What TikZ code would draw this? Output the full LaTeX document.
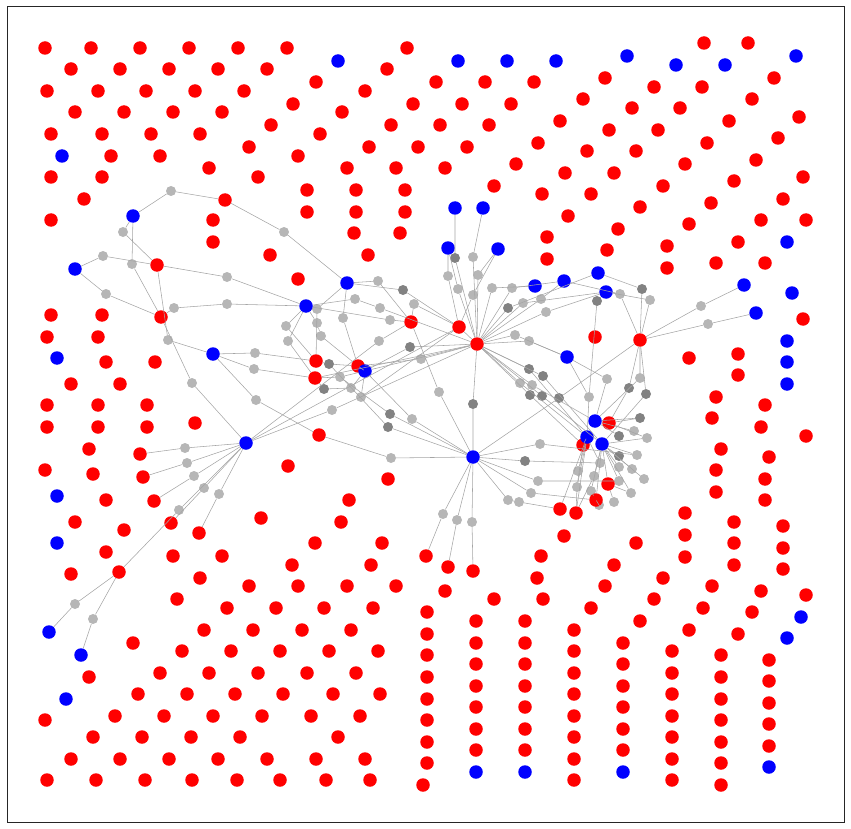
\documentclass[tikz,border=0pt]{standalone}
\begin{document}
\begin{tikzpicture}[x=1pt,y=-1pt,
  rd/.style={circle,fill={rgb,255:red,255;green,0;blue,0},inner sep=0pt,minimum size=13.5pt},
  bl/.style={circle,fill={rgb,255:red,0;green,0;blue,255},inner sep=0pt,minimum size=13.5pt},
  gl/.style={circle,fill={rgb,255:red,182;green,182;blue,182},inner sep=0pt,minimum size=10pt},
  gd/.style={circle,fill={rgb,255:red,130;green,130;blue,130},inner sep=0pt,minimum size=10pt},
  ed/.style={draw={rgb,255:red,165;green,165;blue,165},line width=0.55pt}]
\useasboundingbox (0,0) rectangle (851,829);
\draw[line width=0.8pt,black!85] (7,6) rectangle (844,822);
% isolated red nodes
\foreach \x/\y [count=\i] in {45/48,91/48,140/48,189/48,238/48,287/48,407/48,
71/69,120/69,169/69,218/69,267/69,387/69,47/91,98/91,146/91,195/91,244/91,365/91,
316/82,436/82,485/82,534/82,75/112,124/112,173/112,222/112,342/112,293/104,413/104,462/104,511/104,
271/125,391/125,440/125,489/125,560/121,51/134,102/134,151/134,200/134,320/134,
249/147,369/147,418/147,467/147,538/143,111/156,160/156,298/156,
209/168,347/168,396/168,445/168,516/164,258/177,51/177,102/177,565/173,
84/199,307/190,356/190,405/190,494/186,542/194,51/220,213/220,307/212,356/212,405/212,568/216,
213/242,354/233,400/233,547/237,270/255,368/255,547/259,298/279,
704/43,748/43,605/78,654/87,702/87,774/78,583/99,632/108,680/108,752/99,729/121,799/117,
609/130,658/130,778/138,707/143,587/151,636/151,685/164,756/160,614/173,663/186,734/181,803/177,
591/194,711/203,640/207,783/199,689/224,618/229,761/220,806/220,607/250,667/246,738/242,
667/268,716/263,765/263,
595/337,803/319,689/358,738/354,738/375,716/397,765/405,712/418,761/427,806/436,721/449,769/457,
716/470,765/479,716/492,765/500,685/513,734/522,783/526,636/543,685/535,734/543,783/548,685/557,
51/315,102/315,47/337,98/337,106/362,155/362,71/384,120/384,47/405,98/405,147/405,47/427,98/427,147/427,
195/423,89/449,45/470,93/474,106/500,75/522,124/530,106/552,173/556,222/556,261/518,288/466,
388/479,349/500,341/522,315/543,382/543,564/536,541/556,
71/574,133/643,89/677,45/720,200/578,249/586,177/599,227/608,276/608,204/630,253/630,182/651,231/651,280/651,
160/673,209/673,258/673,138/694,187/694,235/694,283/694,115/716,164/716,213/716,262/716,
93/737,142/737,191/737,240/737,71/759,120/759,169/759,218/759,267/759,47/780,96/780,145/780,192/780,237/780,280/780,
292/565,371/565,298/586,347/586,396/586,445/591,324/608,373/608,494/599,543/599,537/578,302/630,351/630,
329/651,378/651,307/673,356/673,333/694,380/694,311/716,360/716,338/737,316/759,365/759,326/780,370/780,
427/612,427/634,427/655,427/677,427/699,427/720,427/742,427/763,423/785,
476/621,476/643,476/664,476/686,476/707,476/729,476/750,
525/621,525/643,525/664,525/686,525/707,525/729,525/750,
614/565,734/565,783/569,605/586,663/578,712/586,761/591,806/595,591/608,654/599,703/608,752/612,640/621,689/630,738/634,
574/630,574/651,574/673,574/694,574/716,574/737,574/759,574/780,
623/643,623/664,623/686,623/707,623/729,623/750,
672/651,672/673,672/694,672/716,672/737,672/759,672/780,
721/655,721/677,721/699,721/720,721/742,721/763,721/785,
769/660,769/681,769/703,769/724,769/746}
  \node[rd] (pr\i) at (\x,\y) {};
% isolated blue nodes
\foreach \x/\y [count=\i] in {338/61,458/61,507/61,556/61,627/56,676/65,725/65,796/56,62/156,787/242,
792/293,787/341,787/362,787/384,57/358,57/496,57/543,66/699,476/772,525/772,623/772,769/767,801/617,787/638}
  \node[bl] (pb\i) at (\x,\y) {};
% gray nodes
\foreach \n/\x/\y in {g1/171/191,g2/284/232,g3/123/232,g4/132/264,g5/103/256,g6/227/277,g7/106/294,g8/174/308,
g9/227/304,g10/168/340,g11/192/383,g12/255/353,g13/254/369,g14/256/400,g15/185/448,g16/187/463,g17/194/476,
g18/204/488,g19/219/494,g20/179/510,g21/75/604,g22/93/619,g23/378/281,g25/317/309,g26/355/299,g27/380/308,
g28/414/304,g29/317/323,g30/343/318,g31/390/320,g32/321/336,g33/379/341,g35/421/359,g37/340/377,g39/351/388,
g40/361/397,g41/332/410,g43/412/419,g45/439/392,g47/391/458,g48/540/444,g50/538/481,g51/531/493,g52/508/500,
g53/519/502,g54/443/514,g55/457/520,g56/472/522,g58/473/257,g59/448/276,g60/478/275,g61/458/289,g62/473/295,
g63/492/288,g64/512/288,g66/523/303,g67/541/299,g68/546/312,g69/515/335,g70/529/341,g73/520/383,g74/532/385,
g78/620/294,g80/650/300,g82/701/306,g83/708/324,g84/607/379,g85/640/378,g88/589/397,g90/634/431,g91/647/438,
g94/637/455,g95/600/463,g96/619/467,g97/632/469,g98/644/479,g99/578/471,g100/594/476,g101/619/481,g102/577/487,
g103/591/491,g104/631/493,g105/599/505,g106/614/502,g107/286/326,g108/288/341}
  \node[gl] (\n) at (\x,\y) {};
\foreach \n/\x/\y in {g24/403/290,g34/410/347,g36/329/364,g38/324/389,g42/390/414,g44/388/427,g46/473/404,
g49/525/461,g57/455/258,g65/508/308,g71/529/369,g72/543/376,g75/530/395,g76/542/396,g77/559/398,g79/642/289,
g81/597/301,g86/629/388,g87/646/394,g89/640/418,g92/619/436,g93/619/456}
  \node[gd] (\n) at (\x,\y) {};
% red nodes in the graph
\foreach \n/\x/\y in {R1/225/200,R2/157/265,R3/161/317,R4/316/361,R5/315/378,R6/358/366,R7/411/322,R8/459/327,
R9/477/344,R10/319/435,R11/640/340,R12/609/423,R13/583/445,R14/608/484,R15/596/500,R16/576/513,R17/560/509,
R18/426/556,R19/448/567,R20/473/571,R21/140/454,R22/143/477,R23/154/501,R24/171/523,R25/199/533,R26/119/572}
  \node[rd] (\n) at (\x,\y) {};
% blue nodes in the graph
\foreach \n/\x/\y in {B1/133/216,B2/75/269,B3/213/354,B4/246/443,B5/306/306,B6/347/283,B7/365/371,B8/473/457,
B9/455/208,B10/483/208,B11/448/248,B12/498/249,B13/535/286,B14/564/281,B15/598/273,B16/606/292,B17/567/357,
B18/744/285,B19/756/313,B20/595/421,B21/587/437,B22/602/444,B23/49/632,B24/81/655}
  \node[bl] (\n) at (\x,\y) {};
% connectors
\draw[ed] (B1)--(g1)--(R1)--(g2)--(B6);
\draw[ed] (B1)--(g3)--(R2);
\draw[ed] (B1)--(g4)--(R3);
\draw[ed] (B2)--(g5)--(R2);
\draw[ed] (B2)--(g7)--(R3);
\draw[ed] (R2)--(g6)--(B5);
\draw[ed] (R2)--(g10)--(B3);
\draw[ed] (R3)--(g8)--(g9)--(B5);
\draw[ed] (R3)--(g11)--(B4);
\draw[ed] (B3)--(g12)--(R4);
\draw[ed] (B3)--(g13)--(R5);
\draw[ed] (B3)--(g14)--(R10);
\draw[ed] (B4)--(g15)--(R21);
\draw[ed] (B4)--(g16)--(R22);
\draw[ed] (B4)--(g17)--(R23);
\draw[ed] (B4)--(g18)--(R24);
\draw[ed] (B4)--(g19)--(R25);
\draw[ed] (B4)--(g20)--(R26);
\draw[ed] (R26)--(g21)--(B23);
\draw[ed] (R26)--(g22)--(B24);
\draw[ed] (B4)--(R8);
\draw[ed] (B4)--(g41)--(R9);
\draw[ed] (B4)--(g33)--(R7);
\draw[ed] (R10)--(g47)--(B8);
\draw[ed] (B6)--(g23)--(R7);
\draw[ed] (B6)--(g24)--(R8);
\draw[ed] (B6)--(g30)--(R6);
\draw[ed] (B6)--(g25)--(R4);
\draw[ed] (B5)--(g107)--(R4);
\draw[ed] (B5)--(g108)--(R5);
\draw[ed] (B5)--(g29)--(g32)--(R6);
\draw[ed] (B5)--(g26)--(g27)--(R9);
\draw[ed] (B5)--(g31)--(R7);
\draw[ed] (R4)--(g36)--(R6);
\draw[ed] (R6)--(B7);
\draw[ed] (R5)--(g37)--(B7);
\draw[ed] (R5)--(g38)--(g39)--(B7);
\draw[ed] (B7)--(g43)--(B8);
\draw[ed] (g36)--(g44)--(B8);
\draw[ed] (g37)--(g42)--(B8);
\draw[ed] (B7)--(g34)--(R9);
\draw[ed] (R6)--(g35)--(R9);
\draw[ed] (B7)--(g40)--(R8);
\draw[ed] (R7)--(g45)--(B8);
\draw[ed] (R7)--(g28)--(R8);
\draw[ed] (R8)--(R9);
\draw[ed] (R5)--(R9);
\draw[ed] (B7)--(R9);
\draw[ed] (B11)--(g59)--(R8);
\draw[ed] (R9)--(g57)--(B9);
\draw[ed] (R9)--(g58)--(B10);
\draw[ed] (R9)--(g60)--(B12);
\draw[ed] (R9)--(g61)--(B11);
\draw[ed] (R8)--(g62)--(B12);
\draw[ed] (R9)--(g63)--(B13);
\draw[ed] (R9)--(g64)--(B14);
\draw[ed] (R9)--(g65)--(B15);
\draw[ed] (R9)--(g66)--(B16);
\draw[ed] (R9)--(g67)--(B14);
\draw[ed] (R9)--(g68)--(B16);
\draw[ed] (R9)--(g69)--(B17);
\draw[ed] (R9)--(g70)--(B17);
\draw[ed] (R9)--(g46)--(B8);
\draw[ed] (R9)--(g71)--(B21);
\draw[ed] (R9)--(g72)--(B22);
\draw[ed] (R9)--(g73)--(B21);
\draw[ed] (R9)--(g74)--(B20);
\draw[ed] (R9)--(g75)--(R13);
\draw[ed] (R9)--(g76)--(B22);
\draw[ed] (B8)--(g77)--(R11);
\draw[ed] (R11)--(g82)--(B18);
\draw[ed] (R11)--(g83)--(B19);
\draw[ed] (R11)--(g79)--(B15);
\draw[ed] (R11)--(g78)--(B14);
\draw[ed] (R11)--(g80)--(B16);
\draw[ed] (B16)--(g81)--(g88);
\draw[ed] (R11)--(g85)--(B20);
\draw[ed] (R11)--(g86)--(R12);
\draw[ed] (R11)--(g87)--(B22);
\draw[ed] (B17)--(g88)--(B21);
\draw[ed] (B17)--(g84)--(B20);
\draw[ed] (B20)--(R12);
\draw[ed] (B20)--(g89);
\draw[ed] (B20)--(g90);
\draw[ed] (B20)--(g92);
\draw[ed] (B21)--(R13);
\draw[ed] (B21)--(g99);
\draw[ed] (B21)--(g102);
\draw[ed] (B21)--(R16);
\draw[ed] (B21)--(R17);
\draw[ed] (B21)--(g95);
\draw[ed] (B22)--(g91);
\draw[ed] (B22)--(g93);
\draw[ed] (B22)--(g94);
\draw[ed] (B22)--(g96);
\draw[ed] (B22)--(g97);
\draw[ed] (B22)--(g98);
\draw[ed] (B22)--(g100);
\draw[ed] (B22)--(g101);
\draw[ed] (B22)--(R14);
\draw[ed] (B22)--(R15);
\draw[ed] (B22)--(g104);
\draw[ed] (B22)--(g103);
\draw[ed] (R12)--(g89);
\draw[ed] (R12)--(g91);
\draw[ed] (R13)--(g102)--(R16);
\draw[ed] (R14)--(g106);
\draw[ed] (R14)--(g104);
\draw[ed] (R15)--(g105);
\draw[ed] (R15)--(g103);
\draw[ed] (R16)--(g100);
\draw[ed] (R17)--(g53)--(g52)--(B8);
\draw[ed] (B8)--(g51)--(R15);
\draw[ed] (B8)--(g48)--(g94);
\draw[ed] (B8)--(g49)--(g95);
\draw[ed] (B8)--(g50)--(g101);
\draw[ed] (B8)--(g54)--(R18);
\draw[ed] (B8)--(g55)--(R19);
\draw[ed] (B8)--(g56)--(R20);
\end{tikzpicture}
\end{document}
